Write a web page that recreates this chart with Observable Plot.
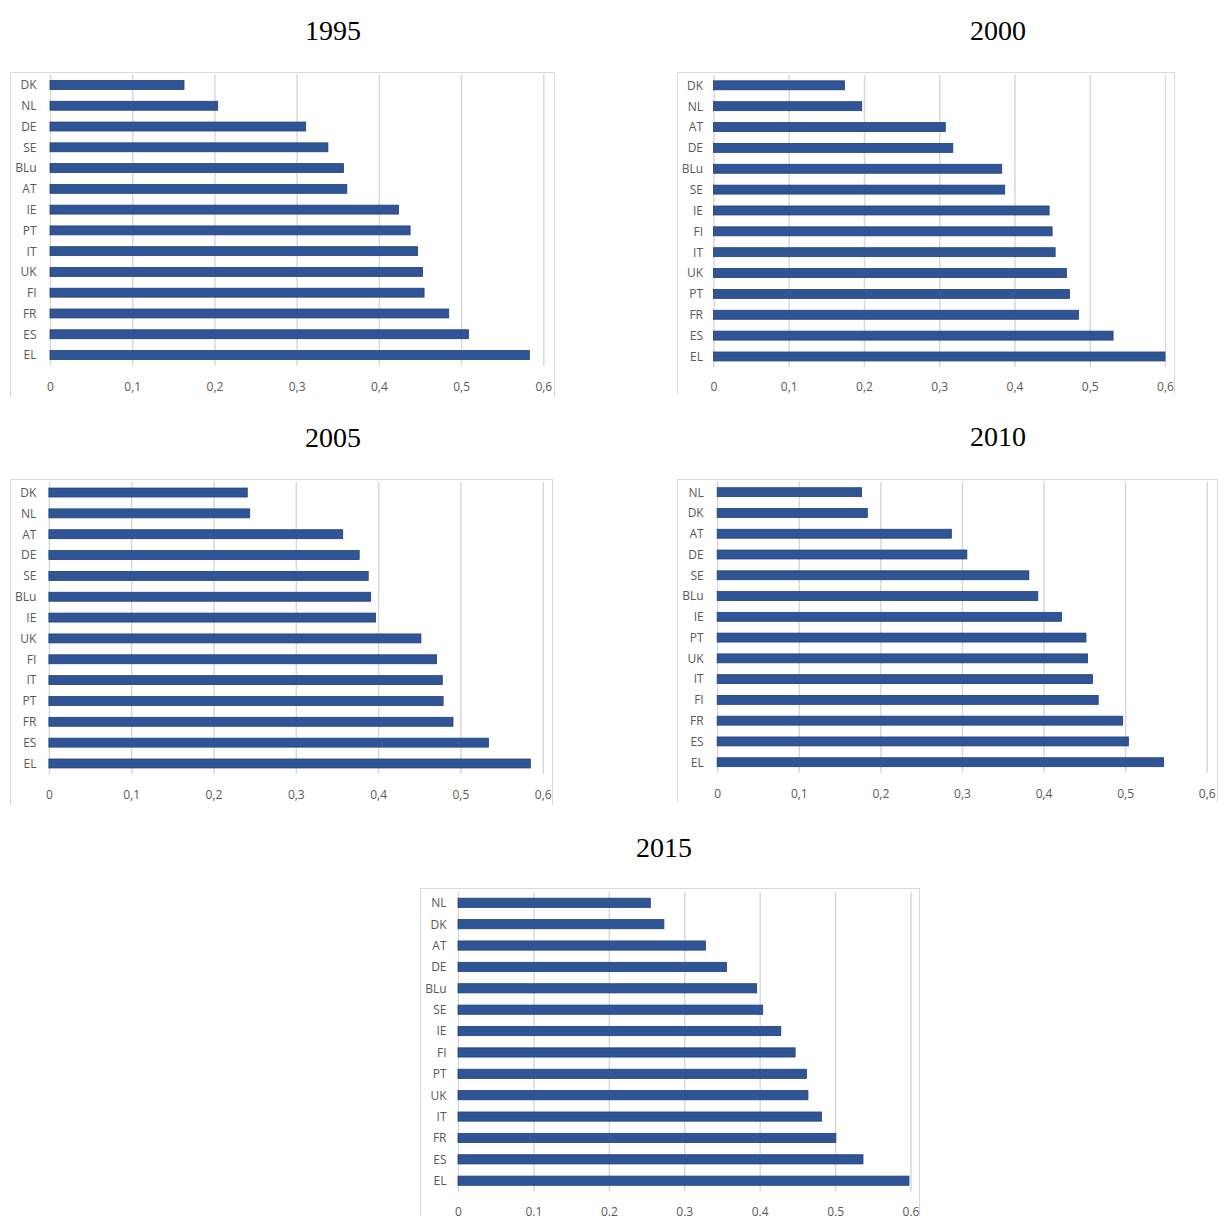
<!DOCTYPE html>
<html><head><meta charset="utf-8">
<script src="https://cdn.jsdelivr.net/npm/d3@7"></script>
<script src="https://cdn.jsdelivr.net/npm/@observablehq/plot@0.6"></script>
<style>
body{margin:0;background:#fff;width:1218px;height:1216px;position:relative;overflow:hidden}
.title{position:absolute;font-family:"Liberation Serif","Times New Roman",serif;font-size:28px;color:#000;transform:translate(-50%,-50%);white-space:nowrap;line-height:1}
.frame{position:absolute;border:1px solid #d9d9d9;border-bottom:none;box-sizing:border-box}
.chart{position:absolute}
.chart svg{display:block}
</style></head><body>
<script>
// ---- data ----
const cat1995 = ["DK","NL","DE","SE","BLu","AT","IE","PT","IT","UK","FI","FR","ES","EL"];
const val1995 = [0.163,0.204,0.311,0.338,0.357,0.361,0.424,0.438,0.447,0.453,0.455,0.485,0.509,0.583];

const cat2000 = ["DK","NL","AT","DE","BLu","SE","IE","FI","IT","UK","PT","FR","ES","EL"];
const val2000 = [0.174,0.197,0.308,0.318,0.383,0.387,0.446,0.450,0.454,0.469,0.473,0.485,0.531,0.600];

const cat2005 = ["DK","NL","AT","DE","SE","BLu","IE","UK","FI","IT","PT","FR","ES","EL"];
const val2005 = [0.241,0.244,0.357,0.377,0.388,0.391,0.397,0.452,0.471,0.478,0.479,0.491,0.534,0.585];

const cat2010 = ["NL","DK","AT","DE","SE","BLu","IE","PT","UK","IT","FI","FR","ES","EL"];
const val2010 = [0.177,0.184,0.287,0.306,0.382,0.393,0.422,0.452,0.454,0.460,0.467,0.497,0.504,0.547];

const cat2015 = ["NL","DK","AT","DE","BLu","SE","IE","FI","PT","UK","IT","FR","ES","EL"];
const val2015 = [0.255,0.273,0.328,0.356,0.396,0.404,0.428,0.447,0.462,0.464,0.482,0.501,0.537,0.598];

const xTicks = [0,0.1,0.2,0.3,0.4,0.5,0.6];
const commaFmt = d => d === 0 ? "0" : d.toFixed(1).replace(".", ",");
const dotFmt = d => d === 0 ? "0" : d.toFixed(1);

// ---- layout ----
const panels = [
  {year:"1995", cats:cat1995, vals:val1995, fmt:commaFmt, tx:333, ty:31,
   left:10, top:72, width:545, height:325, mL:40, mR:11.7, mT:2.6, mB:31.6, yPad:14, xPad:16.5, frameH:325},
  {year:"2000", cats:cat2000, vals:val2000, fmt:commaFmt, tx:998, ty:31,
   left:677, top:72, width:498, height:322, mL:36.5, mR:10, mT:2.9, mB:27.1, yPad:11, xPad:15.5, frameH:322},
  {year:"2005", cats:cat2005, vals:val2005, fmt:commaFmt, tx:333, ty:438,
   left:10, top:479, width:543, height:326, mL:38.9, mR:10.3, mT:3.1, mB:31.1, yPad:13, xPad:16, frameH:326},
  {year:"2010", cats:cat2010, vals:val2010, fmt:commaFmt, tx:998, ty:437,
   left:677, top:479, width:541, height:323, mL:40.2, mR:11.3, mT:2.8, mB:29.4, yPad:14, xPad:16, frameH:323},
  {year:"2015", cats:cat2015, vals:val2015, fmt:dotFmt, tx:664, ty:848,
   left:420, top:888, width:500, height:328, mL:38, mR:9.5, mT:4.1, mB:24.6, yPad:12, xPad:16, frameH:328}
];

for (const p of panels) {
  const t = document.createElement("div");
  t.className = "title";
  t.style.left = p.tx + "px";
  t.style.top = p.ty + "px";
  t.textContent = p.year;
  document.body.appendChild(t);

  const f = document.createElement("div");
  f.className = "frame";
  f.style.left = p.left + "px";
  f.style.top = p.top + "px";
  f.style.width = p.width + "px";
  f.style.height = p.frameH + "px";
  document.body.appendChild(f);

  const data = p.cats.map((c, i) => ({cat: c, val: p.vals[i]}));
  const chart = Plot.plot({
    width: p.width,
    height: p.height,
    marginLeft: p.mL,
    marginRight: p.mR,
    marginTop: p.mT,
    marginBottom: p.mB,
    style: {fontFamily: "'Open Sans', sans-serif", fontSize: "12px", color: "#595959", background: "transparent", overflow: "visible"},
    x: {domain: [0, 0.6], label: null},
    y: {domain: p.cats, paddingInner: 0.57, paddingOuter: 0.285, round: false, label: null},
    marks: [
      Plot.gridX(xTicks, {stroke: "#d9d9d9", strokeOpacity: 1, strokeWidth: 1.5}),
      Plot.barX(data, {x: "val", y: "cat", fill: "#2f5597", stroke: "#203f78", strokeWidth: 0.8}),
      Plot.axisX({ticks: xTicks, tickFormat: p.fmt, tickSize: 0, tickPadding: p.xPad, fill: "#595959", label: null}),
      Plot.axisY({tickSize: 0, tickPadding: p.yPad, fill: "#595959", label: null})
    ]
  });
  const w = document.createElement("div");
  w.className = "chart";
  w.style.left = p.left + "px";
  w.style.top = p.top + "px";
  w.appendChild(chart);
  document.body.appendChild(w);
}
</script>
</body></html>
